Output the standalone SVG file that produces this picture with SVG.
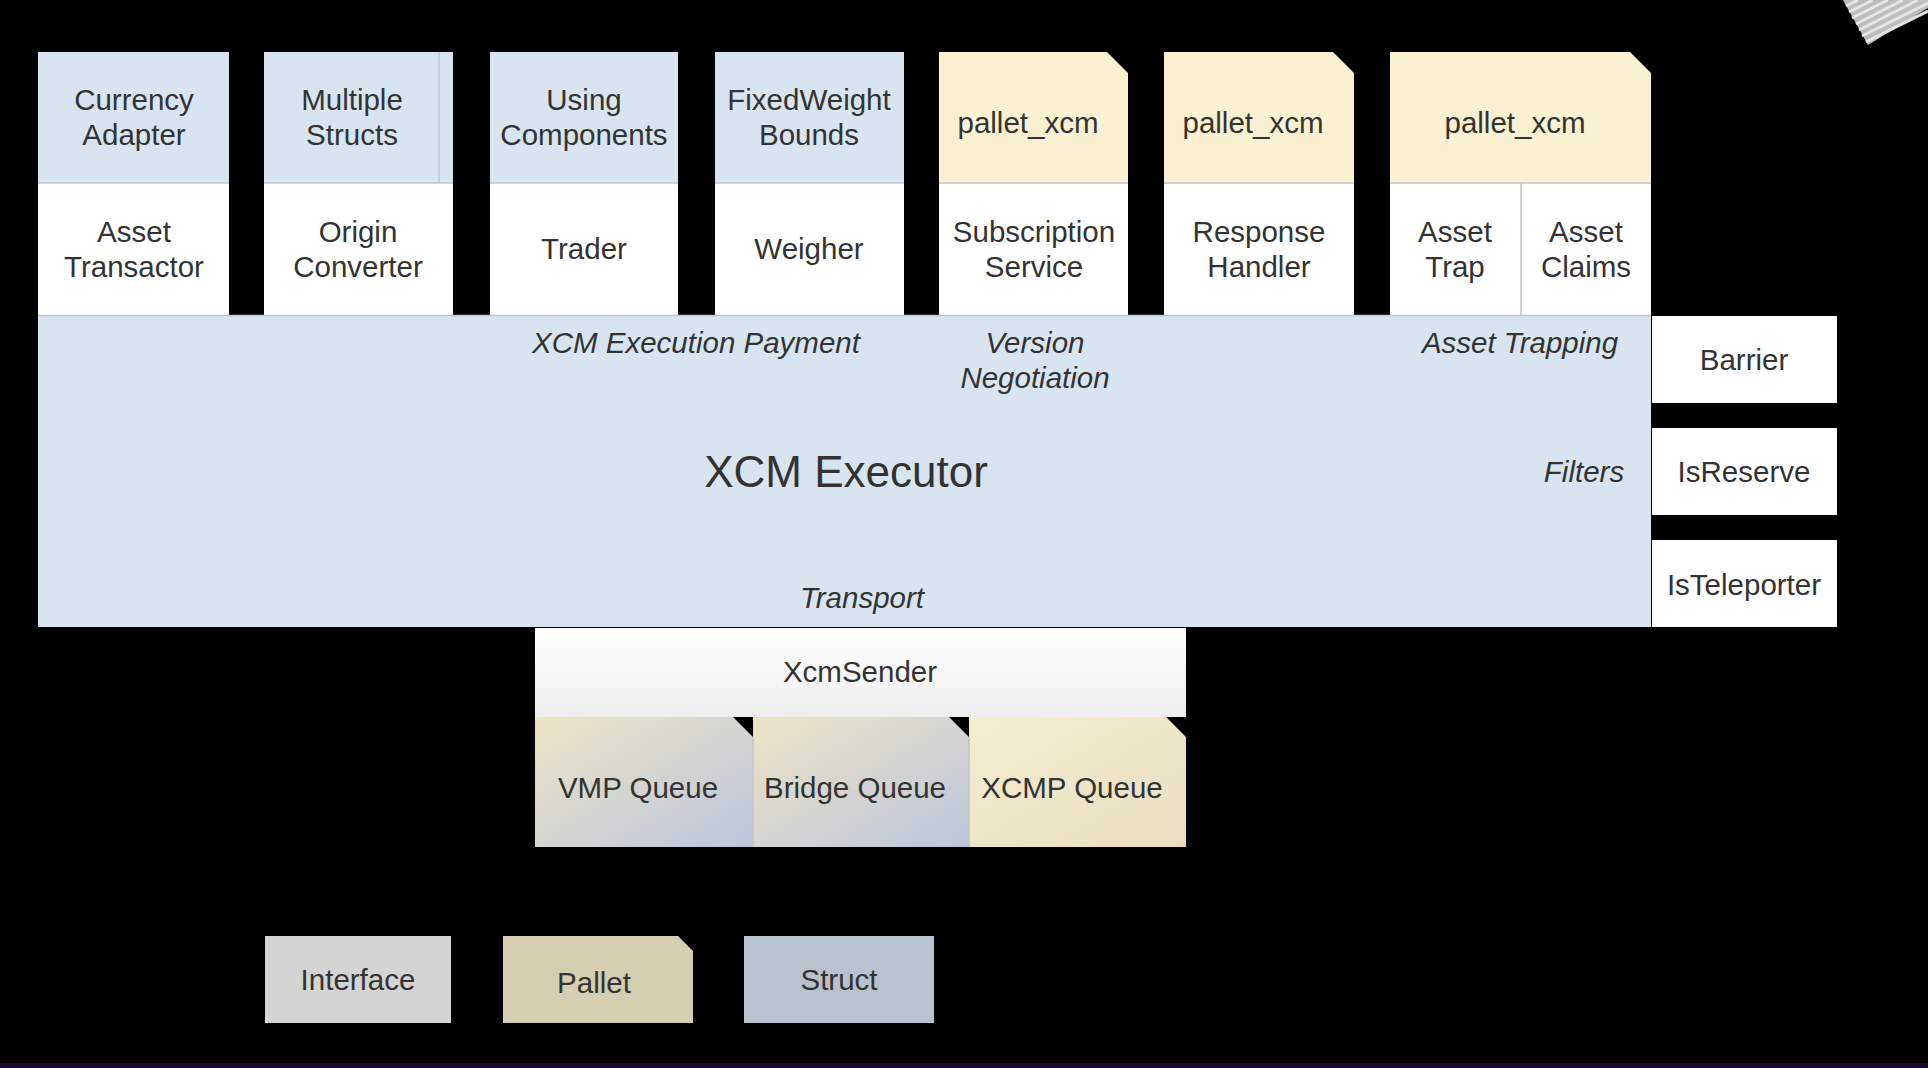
<svg xmlns="http://www.w3.org/2000/svg" width="1928" height="1068" viewBox="0 0 1928 1068">
<defs>
<linearGradient id="qgrad" x1="0" y1="0" x2="1" y2="1">
<stop offset="0" stop-color="#ede4c6"/>
<stop offset="1" stop-color="#bcc6dc"/>
</linearGradient>
<linearGradient id="xgrad" x1="0" y1="0" x2="1" y2="1">
<stop offset="0" stop-color="#f5edd2"/>
<stop offset="1" stop-color="#e8dfc0"/>
</linearGradient>
<linearGradient id="sgrad" x1="0" y1="0" x2="0" y2="1">
<stop offset="0" stop-color="#ffffff"/>
<stop offset="1" stop-color="#eeeeee"/>
</linearGradient>
</defs>
<style>
text{font-family:"Liberation Sans",Arial,sans-serif;fill:#333333;text-anchor:middle}
.t{font-size:29.5px}
.it{font-size:29.5px;font-style:italic}
.big{font-size:44px}
.blue{fill:#d9e4f1}
.beige{fill:#faf0d2}
.white{fill:#ffffff}
.sep{stroke:#c4c4c4;stroke-width:1.5;fill:none}
</style>
<rect width="1928" height="1068" fill="#000000"/>
<rect x="0" y="1063" width="1928" height="5" fill="#1c0d2e"/>
<g id="logo" stroke="#e6e6e6" stroke-width="3" fill="none">
<path d="M1843,0 L1928,0 L1928,8 L1868,45 Z" fill="#bdbdbd" stroke="none"/>
<line x1="1846" y1="6" x2="1858" y2="0"/>
<line x1="1849" y1="12" x2="1873" y2="0"/>
<line x1="1852" y1="18" x2="1888" y2="0"/>
<line x1="1856" y1="24" x2="1903" y2="0"/>
<line x1="1859" y1="30" x2="1918" y2="0"/>
<line x1="1862" y1="36" x2="1928" y2="3"/>
<line x1="1866" y1="42" x2="1928" y2="11"/>
</g>
<g id="connectors"/>
<g id="currency-adapter">
<rect class="blue" x="38" y="52" width="191" height="131"/>
<rect class="white" x="38" y="183" width="191" height="132"/>
<line class="sep" x1="38" y1="183" x2="229" y2="183"/>
<text class="t" x="134" y="110">Currency</text>
<text class="t" x="134" y="145">Adapter</text>
<text class="t" x="134" y="242">Asset</text>
<text class="t" x="134" y="277">Transactor</text>
</g>
<g id="multiple-structs">
<rect class="blue" x="264" y="52" width="189" height="131"/>
<rect class="white" x="264" y="183" width="189" height="132"/>
<line class="sep" x1="264" y1="183" x2="453" y2="183"/>
<line class="sep" x1="439" y1="52" x2="439" y2="183"/>
<text class="t" x="352" y="110">Multiple</text>
<text class="t" x="352" y="145">Structs</text>
<text class="t" x="358" y="242">Origin</text>
<text class="t" x="358" y="277">Converter</text>
</g>
<g id="using-components">
<rect class="blue" x="490" y="52" width="188" height="131"/>
<rect class="white" x="490" y="183" width="188" height="132"/>
<line class="sep" x1="490" y1="183" x2="678" y2="183"/>
<text class="t" x="584" y="110">Using</text>
<text class="t" x="584" y="145">Components</text>
<text class="t" x="584" y="259">Trader</text>
</g>
<g id="fixedweight-bounds">
<rect class="blue" x="715" y="52" width="189" height="131"/>
<rect class="white" x="715" y="183" width="189" height="132"/>
<line class="sep" x1="715" y1="183" x2="904" y2="183"/>
<text class="t" x="809" y="110">FixedWeight</text>
<text class="t" x="809" y="145">Bounds</text>
<text class="t" x="809" y="259">Weigher</text>
</g>
<g id="pallet-xcm-subscription">
<path class="beige" d="M939,52 H1107 L1128,73 V183 H939 Z"/>
<rect class="white" x="939" y="183" width="189" height="132"/>
<line class="sep" x1="939" y1="183" x2="1128" y2="183"/>
<text class="t" x="1028" y="133">pallet_xcm</text>
<text class="t" x="1034" y="242">Subscription</text>
<text class="t" x="1034" y="277">Service</text>
</g>
<g id="pallet-xcm-response">
<path class="beige" d="M1164,52 H1333 L1354,73 V183 H1164 Z"/>
<rect class="white" x="1164" y="183" width="190" height="132"/>
<line class="sep" x1="1164" y1="183" x2="1354" y2="183"/>
<text class="t" x="1253" y="133">pallet_xcm</text>
<text class="t" x="1259" y="242">Response</text>
<text class="t" x="1259" y="277">Handler</text>
</g>
<g id="pallet-xcm-asset">
<path class="beige" d="M1390,52 H1630 L1651,73 V183 H1390 Z"/>
<rect class="white" x="1390" y="183" width="261" height="132"/>
<line class="sep" x1="1390" y1="183" x2="1651" y2="183"/>
<line class="sep" x1="1521" y1="183" x2="1521" y2="315"/>
<text class="t" x="1515" y="133">pallet_xcm</text>
<text class="t" x="1455" y="242">Asset</text>
<text class="t" x="1455" y="277">Trap</text>
<text class="t" x="1586" y="242">Asset</text>
<text class="t" x="1586" y="277">Claims</text>
</g>
<g id="xcm-executor">
<rect class="blue" x="38" y="315" width="1613" height="312"/>
<line class="sep" x1="38" y1="315.5" x2="1651" y2="315.5"/>
<text class="it" x="696" y="353">XCM Execution Payment</text>
<text class="it" x="1035" y="353">Version</text>
<text class="it" x="1035" y="388">Negotiation</text>
<text class="it" x="1520" y="353">Asset Trapping</text>
<text class="big" x="846" y="487">XCM Executor</text>
<text class="it" x="1584" y="482">Filters</text>
<text class="it" x="862" y="608">Transport</text>
</g>
<g id="barrier">
<rect class="white" x="1652" y="316" width="185" height="87"/>
<text class="t" x="1744" y="370">Barrier</text>
</g>
<g id="isreserve">
<rect class="white" x="1652" y="428" width="185" height="87"/>
<text class="t" x="1744" y="482">IsReserve</text>
</g>
<g id="isteleporter">
<rect class="white" x="1652" y="540" width="185" height="87"/>
<text class="t" x="1744" y="595">IsTeleporter</text>
</g>
<g id="xcmsender">
<rect fill="url(#sgrad)" x="535" y="628" width="651" height="89"/>
<text class="t" x="860" y="682">XcmSender</text>
</g>
<g id="vmp-queue">
<path fill="url(#qgrad)" d="M535,717 H733 L753,737 V847 H535 Z"/>
<text class="t" x="638" y="798">VMP Queue</text>
</g>
<g id="bridge-queue">
<path fill="url(#qgrad)" d="M753,717 H949 L969,737 V847 H753 Z"/>
<line class="sep" x1="753" y1="737" x2="753" y2="847"/>
<text class="t" x="855" y="798">Bridge Queue</text>
</g>
<g id="xcmp-queue">
<path fill="url(#xgrad)" d="M969,717 H1166 L1186,737 V847 H969 Z"/>
<line class="sep" x1="969" y1="737" x2="969" y2="847"/>
<text class="t" x="1072" y="798">XCMP Queue</text>
</g>
<g id="legend-interface">
<rect fill="#d4d4d4" x="265" y="936" width="186" height="87"/>
<text class="t" x="358" y="990">Interface</text>
</g>
<g id="legend-pallet">
<path fill="#d6ceb0" d="M503,936 H678 L693,951 V1023 H503 Z"/>
<text class="t" x="594" y="993">Pallet</text>
</g>
<g id="legend-struct">
<rect fill="#b8c2cc" x="744" y="936" width="190" height="87"/>
<text class="t" x="839" y="990">Struct</text>
</g>
</svg>
